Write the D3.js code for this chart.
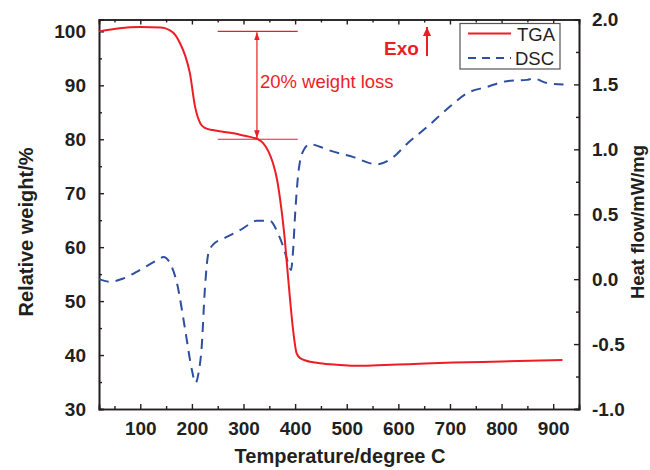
<!DOCTYPE html>
<html>
<head>
<meta charset="utf-8">
<script src="https://cdn.jsdelivr.net/npm/d3@7"></script>
<style>
  body { margin: 0; background: #fff; }
  svg { font-family: "Liberation Sans", Arial, Helvetica, sans-serif; }
</style>
</head>
<body>
<svg></svg>
<script>
const svgWidth = 650;
const svgHeight = 470;

// TGA: temperature (degree C) / relative weight (%)
const tgaTemp = [20, 60, 100, 140, 155, 168, 177, 187, 196, 206, 216, 225, 240, 260, 280, 300, 318, 330, 338, 348, 357, 365, 371, 376, 380, 384, 390, 396, 403, 410, 420, 448, 480, 513, 560, 620, 707, 800, 918];
const tgaWeight = [100, 100.6, 100.8, 100.7, 100.3, 99.3, 97.8, 95.5, 92.3, 86.1, 83.0, 82.1, 81.7, 81.4, 81.1, 80.7, 80.3, 79.9, 79.3, 77.8, 75.6, 72.5, 68.8, 65.0, 61.4, 57.0, 50.5, 44.7, 40.3, 39.4, 39.0, 38.5, 38.2, 38.0, 38.1, 38.3, 38.6, 38.8, 39.1];

// DSC: temperature (degree C) / heat flow (mW/mg)
const dscTemp = [20, 41, 67, 99, 130, 145, 158, 171, 187, 200, 207, 213, 219, 225, 232, 242, 260, 280, 293, 310, 325, 351, 367, 377, 386, 392, 396, 400, 406, 416, 429, 448, 468, 513, 558, 590, 616, 655, 700, 732, 771, 810, 849, 862, 888, 920];
const dscFlow = [0.0, -0.02, 0.005, 0.07, 0.14, 0.17, 0.12, -0.03, -0.39, -0.70, -0.8, -0.72, -0.52, -0.085, 0.2, 0.27, 0.31, 0.35, 0.377, 0.42, 0.45, 0.45, 0.35, 0.25, 0.13, 0.07, 0.22, 0.5, 0.81, 0.99, 1.04, 1.02, 0.99, 0.94, 0.885, 0.94, 1.04, 1.17, 1.33, 1.43, 1.48, 1.525, 1.535, 1.545, 1.51, 1.5];

const xTicks = [100, 200, 300, 400, 500, 600, 700, 800, 900];
const yLeftTicks = [30, 40, 50, 60, 70, 80, 90, 100];
const yRightTicks = [-1.0, -0.5, 0.0, 0.5, 1.0, 1.5, 2.0];

const margin = {top: 19.5, right: 71, bottom: 61, left: 99};
const w = svgWidth - margin.left - margin.right;
const h = svgHeight - margin.top - margin.bottom;

const svg = d3.select("svg")
    .attr("width", svgWidth)
    .attr("height", svgHeight);

const g = svg.append("g")
    .attr("transform", `translate(${margin.left},${margin.top})`);

const x = d3.scaleLinear().domain([20, 950]).range([0, w]);
const yL = d3.scaleLinear().domain([30, 102.2]).range([h, 0]);
const yR = d3.scaleLinear().domain([-1, 2]).range([h, 0]);

const red = "#ee1c25";
const blue = "#2e4f9f";
const axisColor = "#231f20";

// minor ticks
const xMinor = d3.range(50, 950, 100);
const yLMinor = d3.range(35, 102, 10);
const yRMinor = d3.range(-0.75, 2, 0.5);

function styleAxis(sel) {
    sel.select(".domain").attr("stroke", axisColor).attr("stroke-width", 1.6);
    sel.selectAll(".tick line").attr("stroke", axisColor).attr("stroke-width", 1.4);
    sel.selectAll("text")
        .attr("fill", axisColor)
        .attr("font-size", 19)
        .attr("font-weight", "bold");
}

// bottom
g.append("g").attr("transform", `translate(0,${h})`)
    .call(d3.axisBottom(x).tickValues(xTicks).tickSize(-5).tickPadding(13).tickFormat(d3.format("d")))
    .call(styleAxis);
g.append("g").attr("transform", `translate(0,${h})`)
    .call(d3.axisBottom(x).tickValues(xMinor).tickSize(-3).tickFormat(""))
    .call(styleAxis);
// top
g.append("g")
    .call(d3.axisTop(x).tickValues(xTicks).tickSize(-5).tickFormat(""))
    .call(styleAxis);
g.append("g")
    .call(d3.axisTop(x).tickValues(xMinor).tickSize(-3).tickFormat(""))
    .call(styleAxis);
// left
g.append("g")
    .call(d3.axisLeft(yL).tickValues(yLeftTicks).tickSize(-5).tickPadding(13).tickFormat(d3.format("d")))
    .call(styleAxis);
g.append("g")
    .call(d3.axisLeft(yL).tickValues(yLMinor).tickSize(-3).tickFormat(""))
    .call(styleAxis);
// right
g.append("g").attr("transform", `translate(${w},0)`)
    .call(d3.axisRight(yR).tickValues(yRightTicks).tickSize(-5).tickPadding(13)
        .tickFormat(d => d3.format(".1f")(d).replace("\u2212", "-")))
    .call(styleAxis);
g.append("g").attr("transform", `translate(${w},0)`)
    .call(d3.axisRight(yR).tickValues(yRMinor).tickSize(-3).tickFormat(""))
    .call(styleAxis);

// data lines
const tgaLine = d3.line()
    .x((d, i) => x(tgaTemp[i]))
    .y(d => yL(d))
    .curve(d3.curveMonotoneX);

const dscLine = d3.line()
    .x((d, i) => x(dscTemp[i]))
    .y(d => yR(d))
    .curve(d3.curveMonotoneX);

g.append("path")
    .datum(dscFlow)
    .attr("d", dscLine)
    .attr("fill", "none")
    .attr("stroke", blue)
    .attr("stroke-width", 2)
    .attr("stroke-dasharray", "10,7");

g.append("path")
    .datum(tgaWeight)
    .attr("d", tgaLine)
    .attr("fill", "none")
    .attr("stroke", red)
    .attr("stroke-width", 2);

// 20% weight loss annotation
const annX0 = x(250), annX1 = x(405), annXm = x(326);
g.append("line").attr("x1", annX0).attr("x2", annX1).attr("y1", yL(100)).attr("y2", yL(100))
    .attr("stroke", red).attr("stroke-width", 1.2);
g.append("line").attr("x1", annX0).attr("x2", annX1).attr("y1", yL(80)).attr("y2", yL(80))
    .attr("stroke", red).attr("stroke-width", 1.2);

const defs = svg.append("defs");
defs.append("marker")
    .attr("id", "arr")
    .attr("viewBox", "0 0 10 10")
    .attr("refX", 10).attr("refY", 5)
    .attr("markerWidth", 8).attr("markerHeight", 8)
    .attr("markerUnits", "userSpaceOnUse")
    .attr("orient", "auto-start-reverse")
    .append("path")
    .attr("d", "M0,1.5 L10,5 L0,8.5 Z")
    .attr("fill", red);
defs.append("marker")
    .attr("id", "arrBig")
    .attr("viewBox", "0 0 10 10")
    .attr("refX", 10).attr("refY", 5)
    .attr("markerWidth", 11).attr("markerHeight", 9)
    .attr("markerUnits", "userSpaceOnUse")
    .attr("orient", "auto")
    .append("path")
    .attr("d", "M0,0.5 L10,5 L0,9.5 Z")
    .attr("fill", red);

g.append("line")
    .attr("x1", annXm).attr("x2", annXm)
    .attr("y1", yL(100) + 1).attr("y2", yL(80) - 1)
    .attr("stroke", red).attr("stroke-width", 1.2)
    .attr("marker-start", "url(#arr)")
    .attr("marker-end", "url(#arr)");

g.append("text")
    .attr("x", annXm + 3)
    .attr("y", yL(90) + 3)
    .attr("fill", red)
    .attr("font-size", 18.5)
    .text("20% weight loss");

// Exo arrow
g.append("text")
    .attr("x", 384 - margin.left).attr("y", 55 - margin.top)
    .attr("fill", red)
    .attr("font-size", 19)
    .attr("font-weight", "bold")
    .text("Exo");
g.append("line")
    .attr("x1", 427 - margin.left).attr("x2", 427 - margin.left)
    .attr("y1", 56 - margin.top).attr("y2", 27 - margin.top)
    .attr("stroke", red).attr("stroke-width", 2)
    .attr("marker-end", "url(#arrBig)");

// legend
const lg = g.append("g").attr("transform", `translate(${460 - margin.left},${23.5 - margin.top})`);
lg.append("rect")
    .attr("width", 100).attr("height", 45.5)
    .attr("fill", "#fff")
    .attr("stroke", "#555")
    .attr("stroke-width", 1.2);
lg.append("line").attr("x1", 8).attr("x2", 51).attr("y1", 10).attr("y2", 10)
    .attr("stroke", red).attr("stroke-width", 2);
lg.append("line").attr("x1", 8).attr("x2", 51).attr("y1", 34.5).attr("y2", 34.5)
    .attr("stroke", blue).attr("stroke-width", 2).attr("stroke-dasharray", "8,6");
lg.append("text").attr("x", 57).attr("y", 17.5).attr("font-size", 18.5).attr("fill", axisColor).text("TGA");
lg.append("text").attr("x", 55).attr("y", 41.5).attr("font-size", 18.5).attr("fill", axisColor).text("DSC");

// axis titles
svg.append("text")
    .attr("transform", `translate(33,232) rotate(-90)`)
    .attr("text-anchor", "middle")
    .attr("font-size", 20)
    .attr("font-weight", "bold")
    .attr("fill", axisColor)
    .text("Relative weight/%");

svg.append("text")
    .attr("transform", `translate(644,222) rotate(-90)`)
    .attr("text-anchor", "middle")
    .attr("font-size", 18.5)
    .attr("font-weight", "bold")
    .attr("fill", axisColor)
    .text("Heat flow/mW/mg");

svg.append("text")
    .attr("x", 340).attr("y", 463)
    .attr("text-anchor", "middle")
    .attr("font-size", 20)
    .attr("font-weight", "bold")
    .attr("fill", axisColor)
    .text("Temperature/degree C");
</script>
</body>
</html>
